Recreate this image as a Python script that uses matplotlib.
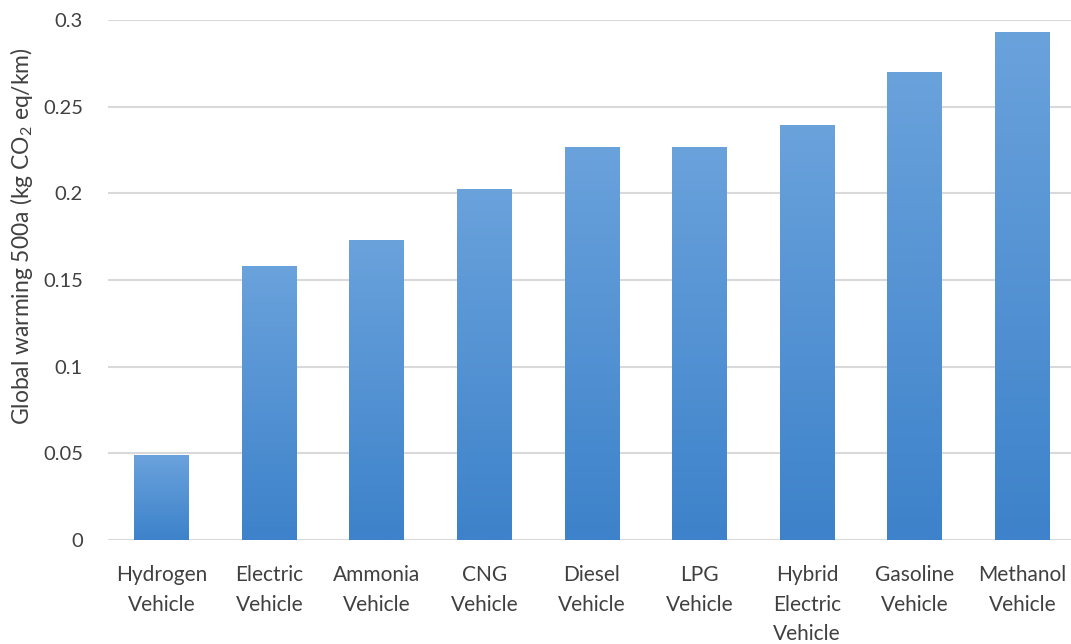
import numpy as np
import matplotlib
matplotlib.use("Agg")
import matplotlib.pyplot as plt
from matplotlib.colors import LinearSegmentedColormap

categories = ["Hydrogen\nVehicle", "Electric\nVehicle", "Ammonia\nVehicle", "CNG\nVehicle",
              "Diesel\nVehicle", "LPG\nVehicle", "Hybrid\nElectric\nVehicle",
              "Gasoline\nVehicle", "Methanol\nVehicle"]
values = [0.049, 0.158, 0.173, 0.2025, 0.227, 0.227, 0.2395, 0.270, 0.293]
yticks = [0, 0.05, 0.1, 0.15, 0.2, 0.25, 0.3]
ytick_labels = ["0", "0.05", "0.1", "0.15", "0.2", "0.25", "0.3"]

plt.rcParams["font.family"] = ["Lato", "DejaVu Sans"]
plt.rcParams["mathtext.fontset"] = "custom"
plt.rcParams["mathtext.rm"] = "Lato"
plt.rcParams["mathtext.it"] = "Lato:italic"

fig = plt.figure(figsize=(10.71, 6.44), dpi=100)
ax = fig.add_axes([0.1008, 0.1615, 0.9, 0.8075])

x = np.arange(len(categories))
bars = ax.bar(x, values, width=0.51, color="none", zorder=2)

# vertical gradient fill for each bar: lighter at the top, deeper at the base
cmap = LinearSegmentedColormap.from_list("bluegrad", ["#3d82ca", "#6aa2dc"])
grad = np.linspace(0, 1, 256).reshape(-1, 1)
for rect in bars:
    x0, y0 = rect.get_x(), rect.get_y()
    w, h = rect.get_width(), rect.get_height()
    im = ax.imshow(grad, cmap=cmap, origin="lower", aspect="auto",
                   extent=(x0, x0 + w, y0, y0 + h), zorder=2)
    im.set_clip_path(rect)

ax.set_xlim(-0.5, 8.46)
ax.set_ylim(0, 0.3)
ax.set_yticks(yticks)
ax.set_yticklabels(ytick_labels)
ax.set_xticks(x)
ax.set_xticklabels(categories, linespacing=1.6)
ax.yaxis.grid(True, color="#d9d9d9", linewidth=1.5, zorder=0)
ax.set_axisbelow(True)
for s in ax.spines.values():
    s.set_visible(False)
ax.tick_params(axis="both", length=0, colors="#404040")
ax.tick_params(axis="y", pad=18, labelsize=14.5)
ax.tick_params(axis="x", pad=18, labelsize=15)
ax.set_ylabel("Global warming 500a (kg CO$_2$ eq/km)", fontsize=16.5, color="#404040")
ax.yaxis.set_label_coords(-0.076, 0.585)

fig.savefig("out.png", dpi=100)
